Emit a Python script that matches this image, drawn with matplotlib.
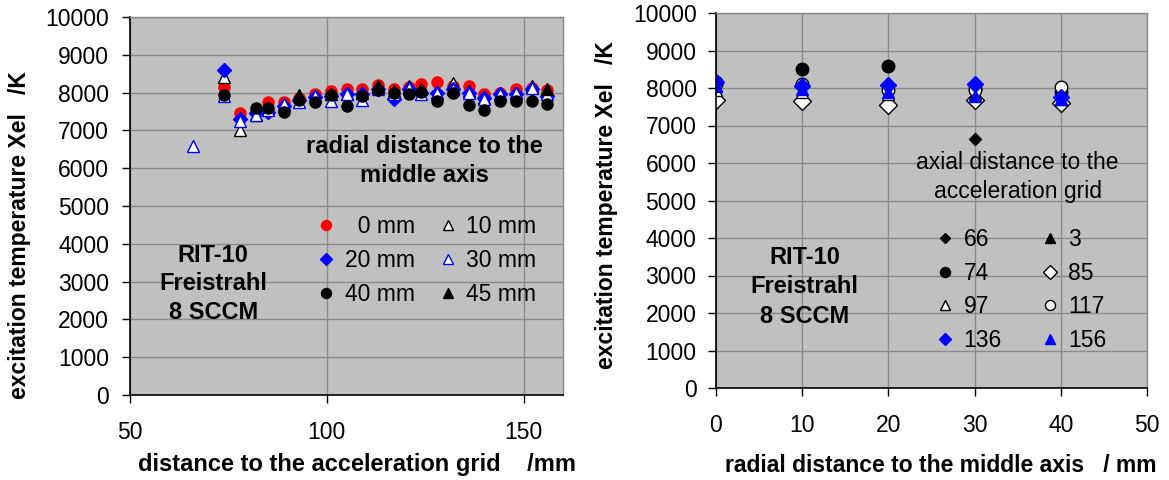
import numpy as np
import matplotlib
matplotlib.use('Agg')
import matplotlib.pyplot as plt

plt.rcParams['font.family'] = ['Liberation Sans', 'DejaVu Sans']

# ---- left chart: temperature vs. distance to the grid, per radial distance
x_left = [74, 78, 82, 85, 89, 93, 97, 101, 105, 109, 113, 117, 121, 124, 128, 132, 136, 140, 144, 148, 152, 156]
t_0mm = [8150, 7450, 7500, 7740, 7740, 7850, 7960, 8040, 8090, 8090, 8200, 8090, 8150, 8220, 8280, 8175, 8175, 7960, 8000, 8090, 8130, 8060]
t_10mm = [8400, 7000, 7420, 7600, 7650, 7900, 7900, 7960, 7960, 8000, 8150, 8050, 8175, 8100, 7980, 8260, 8040, 7850, 7950, 8000, 8175, 8040]
t_20mm = [8600, 7300, 7450, 7500, 7650, 7800, 7880, 7900, 7950, 7950, 8100, 7825, 8100, 8000, 8000, 8100, 8000, 7850, 7960, 7975, 8100, 7910]
x_30mm = [66] + x_left
t_30mm = [6600, 7900, 7250, 7400, 7550, 7700, 7740, 7910, 7780, 7960, 7800, 8100, 7950, 8130, 7960, 8000, 8100, 8000, 7825, 7960, 7990, 8120, 7950]
t_40mm = [7930, np.nan, 7600, 7580, 7500, 7800, 7740, 7930, 7650, 7910, 8060, 8000, 7975, 8025, 7780, 8000, 7675, 7535, 7780, 7780, 7780, 7710]
t_45mm = [np.nan, np.nan, np.nan, np.nan, np.nan, 7930, np.nan, np.nan, np.nan, np.nan, 8175, np.nan, np.nan, np.nan, np.nan, np.nan, np.nan, np.nan, np.nan, np.nan, np.nan, 8100]

# ---- right chart: temperature vs. radial distance, per axial distance
r = [0, 10, 20, 30, 40]
t_66 = [6650]
r_66 = [30]
t_3 = [8050]
r_3 = [0]
t_74 = [8150, 8500, 8600, 8000, 7900]
t_85 = [7680, 7650, 7560, 7690, 7600]
t_97 = [7950, 7900, 7850, 7850, 7700]
t_117 = [8100, 8100, 7950, 7950, 8030]
t_136 = [8150, 8050, 8080, 8100, 7750]
t_156 = [8050, 7980, 7900, 7800, 7700]

W, H = 1169, 480
fig = plt.figure(figsize=(W / 100, H / 100), dpi=100)
fig.patch.set_facecolor('white')

def px_axes(l, t, r_, b):
    return fig.add_axes([l / W, 1 - b / H, (r_ - l) / W, (b - t) / H])

ax1 = px_axes(130, 17, 563, 395)
ax2 = px_axes(716, 13, 1147, 388)

GRID = '#8a8a8a'
BG = '#c0c0c0'
FS = 16.5

def style(ax, xlim, xticks, ypad, xpad):
    ax.set_facecolor(BG)
    ax.set_xlim(*xlim)
    ax.set_ylim(0, 10000)
    ax.set_xticks(xticks)
    ax.set_yticks(range(0, 10001, 1000))
    ax.grid(True, color=GRID, linewidth=1)
    ax.set_axisbelow(True)
    for s in ['top', 'right']:
        ax.spines[s].set_color(GRID)
        ax.spines[s].set_linewidth(1)
    for s in ['left', 'bottom']:
        ax.spines[s].set_color('black')
        ax.spines[s].set_linewidth(1.2)
    ax.tick_params(axis='y', direction='out', length=6, width=1, labelsize=FS, pad=ypad)
    ax.tick_params(axis='x', direction='out', length=6, width=1, labelsize=FS, pad=xpad)

style(ax1, (50, 160), [50, 100, 150], 9, 13)
style(ax2, (0, 50), [0, 10, 20, 30, 40, 50], 8, 13)

ms = 8
h0, = ax1.plot(x_left, t_0mm, 'o', color='red', ms=ms, mec='red', ls='none', label='  0 mm')
h10, = ax1.plot(x_left, t_10mm, '^', color='white', ms=ms, mec='black', mew=1, ls='none', label='10 mm')
h20, = ax1.plot(x_left, t_20mm, 'D', color='blue', ms=ms - 1, mec='blue', ls='none', label='20 mm')
h30, = ax1.plot(x_30mm, t_30mm, '^', color='white', ms=ms, mec='blue', mew=1, ls='none', label='30 mm')
h40, = ax1.plot(x_left, t_40mm, 'o', color='black', ms=ms, mec='black', ls='none', label='40 mm')
h45, = ax1.plot(x_left, t_45mm, '^', color='black', ms=ms, mec='black', ls='none', label='45 mm')

ax1.legend(handles=[h0, h20, h40, h10, h30, h45], ncol=2, frameon=False,
           loc='upper left', bbox_to_anchor=(0.374, 0.532), fontsize=FS,
           handletextpad=0.2, columnspacing=0.85, labelspacing=0.50,
           handlelength=1.2, markerscale=0.9)
ax1.text(0.681, 0.619, 'radial distance to the\nmiddle axis', transform=ax1.transAxes,
         ha='center', va='center', fontsize=17, fontweight='bold', linespacing=1.38)
ax1.text(0.192, 0.294, 'RIT-10\nFreistrahl\n8 SCCM', transform=ax1.transAxes,
         ha='center', va='center', fontsize=17, fontweight='bold', linespacing=1.31)

ms2 = 9
g66, = ax2.plot(r_66, t_66, 'D', color='black', ms=6.5, ls='none', label='66')
g3, = ax2.plot(r_3, t_3, '^', color='black', ms=ms2, ls='none', label='3')
g74, = ax2.plot(r, t_74, 'o', color='black', ms=ms2, ls='none', label='74')
g85, = ax2.plot(r, t_85, 'D', color='white', mec='black', mew=1, ms=ms2, ls='none', label='85')
g97, = ax2.plot(r, t_97, '^', color='white', mec='black', mew=1, ms=ms2, ls='none', label='97')
g117, = ax2.plot(r, t_117, 'o', color='white', mec='black', mew=1, ms=ms2, ls='none', label='117')
g136, = ax2.plot(r, t_136, 'D', color='blue', ms=ms2 - 1, ls='none', label='136')
g156, = ax2.plot(r, t_156, '^', color='blue', ms=ms2, ls='none', label='156')

ax2.legend(handles=[g66, g74, g97, g136, g3, g85, g117, g156], ncol=2, frameon=False,
           loc='upper left', bbox_to_anchor=(0.452, 0.482), fontsize=FS,
           handletextpad=0.2, columnspacing=1.5, labelspacing=0.47,
           handlelength=1.2, markerscale=0.8)
ax2.text(0.70, 0.563, 'axial distance to the\nacceleration grid', transform=ax2.transAxes,
         ha='center', va='center', fontsize=16.5, linespacing=1.33)
ax2.text(0.206, 0.27, 'RIT-10\nFreistrahl\n8 SCCM', transform=ax2.transAxes,
         ha='center', va='center', fontsize=17, fontweight='bold', linespacing=1.35)

ax1.set_xlabel('distance to the acceleration grid    /mm', fontsize=17, fontweight='bold')
ax1.xaxis.set_label_coords((357 - 130) / 433, (395 - 464) / 378)
ax1.xaxis.label.set_va('center')
ax1.set_ylabel('excitation temperature Xel   /K', fontsize=FS, fontweight='bold')
ax1.yaxis.set_label_coords((20 - 130) / 433, (395 - 235) / 378)
ax1.yaxis.label.set_va('center')

ax2.set_xlabel('radial distance to the middle axis   / mm', fontsize=16.5, fontweight='bold')
ax2.xaxis.set_label_coords((941 - 716) / 431, (388 - 466) / 375)
ax2.xaxis.label.set_va('center')
ax2.set_ylabel('excitation temperature Xel   /K', fontsize=FS, fontweight='bold')
ax2.yaxis.set_label_coords((606 - 716) / 431, (388 - 205) / 375)
ax2.yaxis.label.set_va('center')

fig.savefig('out.png', dpi=100)
